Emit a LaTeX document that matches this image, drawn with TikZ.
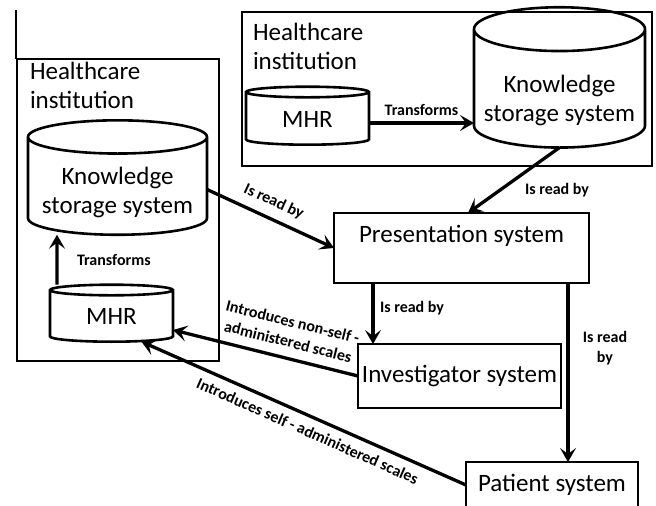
\documentclass[tikz,border=0pt]{standalone}
\usepackage{fontspec}
\setmainfont{Carlito}
\usetikzlibrary{
  shapes.geometric,
  arrows.meta,
  positioning,
  }

\begin{document}
\begin{tikzpicture}
                [x=1pt, y=-1pt,
                 every node/.style={outer sep=0pt, inner sep=0pt, align=center,
                   font=\fontsize{25}{29}\selectfont},
                 inst/.style={draw, line width=2.8pt, minimum width=#1},
                 sysbox/.style={draw, line width=2.6pt},
                 db/.style={draw, line width=2.6pt, cylinder, shape border rotate=90},
                 lbl/.style={font=\fontsize{16}{20}\selectfont\bfseries},
                 arr/.style={line width=3.3pt, -{Stealth[length=14pt, width=16pt, inset=6pt]}}]
                \useasboundingbox (0,0) rectangle (656,506);
                \clip (0,0) rectangle (656,506);

                % healthcare institutions
                \draw[line width=2pt] (16,10) -- (16,59);
                \node[inst=202pt, minimum height=302pt] (instL) at (118,210) {};
                \node[inst=410pt, minimum height=154pt] (instT) at (447,89) {};
                \node[anchor=north west, align=left] (capL) at (30,62) {Healthcare\\institution};
                \node[anchor=north west, align=left] (capT) at (253,23) {Healthcare\\institution};

                \node[db, minimum width=179pt, minimum height=113pt, aspect=0.22] (kssL) at (117.5,186.5) {\rule{0pt}{30pt}Knowledge\\storage system};
                \node[db, minimum width=123pt, minimum height=57pt, aspect=0.21] (mhrL) at (111.5,316.5) {MHR};
                \node[db, minimum width=123pt, minimum height=58pt, aspect=0.21] (mhrT) at (307.5,119) {MHR};
                \node[db, minimum width=171pt, minimum height=128pt, aspect=0.29] (kssT) at (559.5,89) {\rule{0pt}{40pt}Knowledge\\storage system};

                % systems
                \node[sysbox, minimum width=255pt, minimum height=70pt] (pres) at (461.5,248) {Presentation system\\\mbox{}};
                \node[sysbox, minimum width=203pt, minimum height=64pt] (inv) at (459.5,376) {Investigator system};
                \node[sysbox, minimum width=172pt, minimum height=46pt] (pat) at (552,485) {Patient system};

                \draw[arr] ([xshift=-54.5pt]mhrL.north) -- ([xshift=-60.5pt]kssL.south)
                    node[lbl, pos=0.5, right=20pt] (tL) {Transforms};
                \draw[arr] ([yshift=-4pt]mhrT.east) -- ([yshift=-4pt]mhrT.east -| kssT.west)
                    node[lbl, pos=0.5, above=7pt] (tT) {Transforms};
                \draw[arr] (kssT.south) -- ([xshift=6.5pt]pres.north)
                    node[lbl, anchor=west] (r1) at (525,190) {Is read by};
                \draw[arr] ([yshift=-3pt]kssL.east) -- (pres.west)
                    node[lbl, pos=0.47, sloped, above=10pt] (r2) {Is read by};
                \draw[arr] ([xshift=-88.5pt]pres.south) -- ([xshift=-86.5pt]inv.north)
                    node[lbl, anchor=west] (r3) at (380,308) {Is read by};
                \draw[arr] ([xshift=106.5pt]pres.south) -- ([xshift=16pt]pat.north)
                    node[lbl] (r4) at (605,348) {Is read\\by};
                \draw[arr] (inv.west) -- ([yshift=-13.5pt]mhrL.east)
                    node[lbl, pos=0.4, sloped, above=11pt] (i1) {Introduces non-self -\\administered scales};
                \draw[arr] (pat.west) -- ([xshift=30pt]mhrL.south)
                    node[lbl, pos=0.47, sloped, below=9pt] (i2) {Introduces self - administered scales};

            \end{tikzpicture}
\end{document}
